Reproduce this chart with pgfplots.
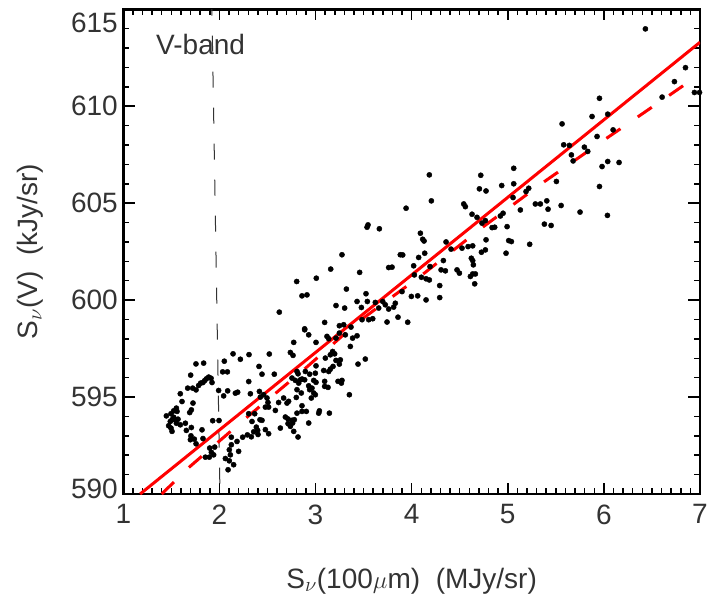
\documentclass[border=0pt]{standalone}
\usepackage{fontspec}
\setmainfont{Liberation Sans}
\usepackage{pgfplots}
\pgfplotsset{compat=1.18}
\definecolor{txt}{gray}{0.2}
\newcommand{\lbl}{\fontsize{28bp}{33bp}\selectfont}

\begin{document}
\begin{tikzpicture}
\begin{axis}[
    scale only axis,
    width=576.7bp, height=484.7bp,
    xmin=1, xmax=7, ymin=590, ymax=615,
    xtick={1,...,7}, minor x tick num=9,
    xticklabels={1,2,3,4,5,6,7},
    ytick={590,595,...,615}, minor y tick num=4,
    yticklabels={\raisebox{-4bp}[0pt][0pt]{590},595,600,605,610,\raisebox{-23bp}[0pt][0pt]{615}},
    tick style={black, line width=1.5bp},
    yticklabel style={anchor=east, xshift=-2bp},
    xticklabel style={yshift=-7bp},
    tick label style={font=\lbl, text=txt},
    label style={font=\lbl, text=txt},
    xlabel={S$_\nu$(100$\mu$m)\ \ (MJy/sr)},
    ylabel={S$_\nu$(V)\ \ (kJy/sr)},
    xlabel style={at={(axis description cs:0.5,-0.194)}, anchor=base},
    ylabel style={at={(axis description cs:-0.148,0.5)}, anchor=base, rotate=0},
    axis line style={line width=2.5bp},
]
% tick marks on all four sides
\pgfplotsinvokeforeach{1,2,3,4,5,6,7}{
  \draw[black, line width=1.5bp] (axis cs:#1,590) -- ++(0bp,11bp);
  \draw[black, line width=1.5bp] (axis cs:#1,615) -- ++(0bp,-11bp);
}
\pgfplotsinvokeforeach{1.1,1.2,1.3,1.4,1.5,1.6,1.7,1.8,1.9,2.1,2.2,2.3,2.4,2.5,2.6,2.7,2.8,2.9,3.1,3.2,3.3,3.4,3.5,3.6,3.7,3.8,3.9,4.1,4.2,4.3,4.4,4.5,4.6,4.7,4.8,4.9,5.1,5.2,5.3,5.4,5.5,5.6,5.7,5.8,5.9,6.1,6.2,6.3,6.4,6.5,6.6,6.7,6.8,6.9}{
  \draw[black, line width=1.5bp] (axis cs:#1,590) -- ++(0bp,6bp);
  \draw[black, line width=1.5bp] (axis cs:#1,615) -- ++(0bp,-6bp);
}
\pgfplotsinvokeforeach{590,595,600,605,610,615}{
  \draw[black, line width=1.5bp] (axis cs:1,#1) -- ++(12bp,0bp);
  \draw[black, line width=1.5bp] (axis cs:7,#1) -- ++(-12bp,0bp);
}
\pgfplotsinvokeforeach{591,592,593,594,596,597,598,599,601,602,603,604,606,607,608,609,611,612,613,614}{
  \draw[black, line width=1.5bp] (axis cs:1,#1) -- ++(6bp,0bp);
  \draw[black, line width=1.5bp] (axis cs:7,#1) -- ++(-6bp,0bp);
}
% vertical marker
\addplot[black!80, line width=1bp, dash pattern=on 16bp off 20bp] coordinates {(1.92,615.5) (2.006,590)};
% data points
\addplot[only marks, mark=*, mark size=2.6bp, black] table {
x y
2.142 597.23
2.218 596.95
2.308 597.19
2.051 596.85
2.034 596.30
2.083 596.30
1.756 596.71
1.836 596.75
2.412 596.58
1.701 596.13
1.888 596.03
1.864 595.94
1.913 595.97
1.847 595.85
1.805 595.72
1.784 595.60
1.829 595.75
1.923 595.75
2.305 595.80
1.670 595.46
1.722 595.46
1.757 595.37
1.992 595.34
2.086 595.32
2.190 595.25
2.166 595.20
2.322 595.17
2.416 595.29
1.593 595.17
1.611 594.77
2.044 595.06
2.426 595.00
1.725 594.69
1.552 594.43
1.524 594.29
1.559 594.26
1.708 594.34
1.691 594.20
1.448 594.03
1.496 594.14
1.524 593.96
1.541 593.83
1.507 593.83
1.489 593.74
1.569 593.86
1.552 593.65
1.593 593.57
1.646 593.65
1.472 593.52
1.496 593.40
1.507 593.23
1.930 593.78
1.996 593.79
2.305 594.14
2.367 594.14
2.339 593.74
2.422 593.83
2.384 593.45
2.398 593.28
1.656 593.28
1.708 593.43
1.819 593.31
1.704 593.00
1.739 592.83
1.698 592.80
1.757 592.59
1.829 592.86
2.124 592.93
2.124 592.54
2.103 592.28
2.114 592.02
2.242 592.93
2.291 593.05
2.332 592.95
2.357 593.21
2.402 593.07
2.183 592.71
2.200 592.20
1.899 592.37
1.951 592.42
1.916 592.15
1.895 591.90
1.940 592.02
1.854 591.90
2.062 591.83
2.103 591.71
2.148 591.51
2.090 591.25
2.887 598.47
2.929 598.21
2.773 597.82
3.005 597.82
3.119 598.13
3.137 598.01
3.213 598.04
3.248 598.30
3.310 598.21
3.386 598.04
3.432 598.16
3.362 597.61
2.519 597.22
2.738 597.30
2.766 597.15
3.178 597.35
3.154 597.18
3.199 597.23
3.102 597.01
3.213 596.89
3.258 596.92
3.248 596.70
3.182 596.58
3.442 596.70
3.518 596.96
3.005 596.61
2.894 596.32
2.807 596.32
2.818 596.20
2.859 595.93
2.887 595.89
2.842 595.89
2.825 595.72
2.790 595.86
2.755 595.98
2.571 596.18
2.443 596.18
3.085 596.37
3.137 596.32
3.154 596.44
2.939 596.18
2.998 596.23
2.981 595.86
3.005 595.76
2.929 595.58
2.963 595.46
2.939 595.38
2.981 595.21
2.998 595.12
2.956 594.95
3.095 595.81
3.095 595.55
3.130 595.50
3.234 595.81
3.275 595.86
3.269 595.72
2.807 595.38
2.852 595.21
2.800 594.98
2.720 594.78
2.703 594.69
2.668 594.95
2.616 594.72
2.582 594.31
2.512 594.48
2.478 594.48
2.505 594.72
2.495 594.95
2.460 595.12
3.352 595.12
2.859 594.55
2.859 594.26
2.904 594.26
2.807 594.17
3.040 594.29
3.033 594.17
3.144 594.17
2.686 593.97
2.714 593.87
2.755 593.80
2.779 593.83
2.762 593.66
2.714 593.63
2.738 593.49
2.634 593.40
2.773 593.23
2.818 592.94
2.929 593.66
2.478 593.32
2.512 593.11
2.443 593.80
3.546 603.88
3.536 603.76
3.664 603.68
3.275 602.34
3.882 602.34
3.158 601.60
3.459 601.43
2.804 600.96
3.008 601.13
3.761 601.68
3.796 601.70
2.859 600.22
2.911 600.27
3.321 600.57
2.623 599.38
3.213 599.72
3.303 599.59
3.525 600.33
3.432 599.93
3.539 599.93
3.477 599.62
3.622 599.88
3.699 599.93
3.657 599.59
3.726 599.76
3.761 599.54
3.813 599.64
3.830 599.84
3.858 599.12
3.744 598.87
3.095 598.85
2.887 598.52
3.248 598.68
3.293 598.73
3.369 598.61
3.484 598.99
3.553 598.99
3.595 599.04
5.062 606.80
4.184 606.46
4.719 606.44
4.937 605.91
5.062 606.00
4.705 605.74
4.774 605.63
5.218 605.77
5.190 605.60
4.205 605.12
3.942 604.74
4.542 604.96
4.559 604.82
5.055 605.29
5.131 604.65
5.287 604.96
5.339 604.96
4.951 604.48
4.923 604.34
4.628 604.43
4.680 604.27
4.732 603.97
4.767 604.10
4.837 603.74
4.864 603.76
4.993 603.79
4.091 603.45
4.115 603.14
4.129 603.05
4.358 603.00
4.774 603.11
5.010 603.07
5.038 603.02
5.228 602.88
4.982 602.42
4.726 602.47
4.767 602.59
4.587 602.76
4.635 602.80
4.524 602.68
4.410 602.63
4.136 602.42
4.073 602.20
3.907 602.33
4.021 601.77
4.028 601.30
4.191 601.73
4.330 602.04
4.621 602.16
4.635 602.04
4.642 601.82
4.306 601.56
4.351 601.51
4.472 601.56
4.497 601.39
4.611 601.22
4.635 601.35
4.663 601.35
4.656 600.84
4.101 601.18
4.150 601.10
4.184 601.04
4.292 600.75
3.900 600.44
3.997 600.19
4.063 600.22
4.150 600.01
4.292 600.13
3.959 598.86
6.734 611.27
6.606 610.47
6.942 610.71
6.995 610.71
5.954 610.41
6.040 609.59
5.877 609.47
5.565 609.09
6.096 608.78
5.929 608.44
5.582 608.01
5.641 607.98
5.797 607.89
5.832 607.67
5.662 607.49
5.680 607.18
6.040 607.15
6.158 607.10
5.981 606.89
5.506 606.12
5.954 605.86
5.406 605.12
5.419 604.69
5.555 604.88
5.752 604.54
6.037 604.37
5.381 603.92
5.451 603.85
6.432 613.99
6.849 611.99
};
% fits
\addplot[red, line width=3bp] coordinates {(1.175,590) (7,613.3)};
\addplot[red, line width=3bp, dash pattern=on 17bp off 21bp] coordinates {
(1.40,590) (1.673,591.33) (2.277,593.92) (2.877,596.41) (3.45,598.9)
(4.108,601.3) (4.725,603.71) (5.357,606.03) (6.002,608.26) (6.65,610.46) (7.0,611.66)};
\node[anchor=base west, font=\lbl, text=txt] at (rel axis cs:0.051,0.906) {V-band};
\end{axis}
\pgfresetboundingbox
\path (-123.3bp,-103bp) rectangle (587.7bp,494bp);
\end{tikzpicture}
\end{document}
